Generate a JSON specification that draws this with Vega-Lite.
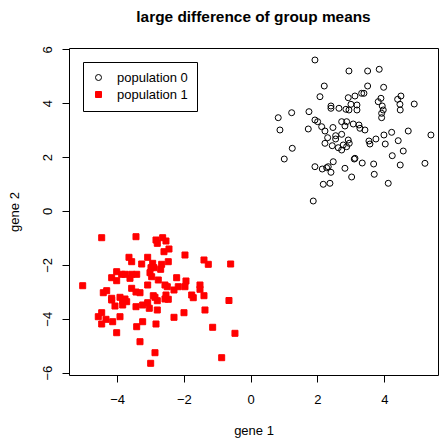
{
  "$schema": "https://vega.github.io/schema/vega-lite/v6.json",
  "width": 369,
  "height": 327,
  "autosize": {"type": "none"},
  "padding": {"left": 69, "top": 48, "right": 1, "bottom": 64},
  "background": "white",
  "title": {"text": "large difference of group means", "fontSize": 15.4, "fontWeight": "bold", "font": "Liberation Sans", "color": "black", "anchor": "middle", "offset": 20},
  "config": {
    "font": "Liberation Sans",
    "view": {"stroke": "black", "strokeWidth": 1},
    "axis": {"grid": false, "domain": false, "tickColor": "black", "tickSize": 7, "labelFontSize": 13, "labelColor": "black", "titleFontSize": 13, "titleFontWeight": "normal", "titleColor": "black", "labelFont": "Liberation Sans", "titleFont": "Liberation Sans"}
  },
  "data": {"values": [
    {"x": 1.925, "y": 5.603, "population": "population 0"},
    {"x": 2.943, "y": 5.195, "population": "population 0"},
    {"x": 3.503, "y": 5.195, "population": "population 0"},
    {"x": 3.850, "y": 5.258, "population": "population 0"},
    {"x": 2.204, "y": 4.638, "population": "population 0"},
    {"x": 3.503, "y": 4.638, "population": "population 0"},
    {"x": 3.982, "y": 4.590, "population": "population 0"},
    {"x": 2.075, "y": 4.241, "population": "population 0"},
    {"x": 2.922, "y": 4.204, "population": "population 0"},
    {"x": 3.123, "y": 4.267, "population": "population 0"},
    {"x": 3.323, "y": 4.367, "population": "population 0"},
    {"x": 3.392, "y": 4.367, "population": "population 0"},
    {"x": 0.826, "y": 3.462, "population": "population 0"},
    {"x": 1.228, "y": 3.647, "population": "population 0"},
    {"x": 1.746, "y": 3.685, "population": "population 0"},
    {"x": 2.404, "y": 3.896, "population": "population 0"},
    {"x": 2.404, "y": 3.811, "population": "population 0"},
    {"x": 2.644, "y": 3.811, "population": "population 0"},
    {"x": 2.853, "y": 3.774, "population": "population 0"},
    {"x": 2.943, "y": 3.748, "population": "population 0"},
    {"x": 3.003, "y": 3.959, "population": "population 0"},
    {"x": 3.183, "y": 3.933, "population": "population 0"},
    {"x": 3.183, "y": 3.748, "population": "population 0"},
    {"x": 3.901, "y": 4.182, "population": "population 0"},
    {"x": 3.820, "y": 4.056, "population": "population 0"},
    {"x": 3.940, "y": 3.896, "population": "population 0"},
    {"x": 3.970, "y": 3.748, "population": "population 0"},
    {"x": 3.922, "y": 3.625, "population": "population 0"},
    {"x": 3.922, "y": 3.462, "population": "population 0"},
    {"x": 4.401, "y": 4.145, "population": "population 0"},
    {"x": 4.500, "y": 4.267, "population": "population 0"},
    {"x": 4.470, "y": 3.959, "population": "population 0"},
    {"x": 4.479, "y": 3.748, "population": "population 0"},
    {"x": 4.898, "y": 3.970, "population": "population 0"},
    {"x": 1.925, "y": 3.377, "population": "population 0"},
    {"x": 2.006, "y": 3.314, "population": "population 0"},
    {"x": 2.126, "y": 3.128, "population": "population 0"},
    {"x": 2.464, "y": 3.098, "population": "population 0"},
    {"x": 2.725, "y": 3.314, "population": "population 0"},
    {"x": 2.874, "y": 3.314, "population": "population 0"},
    {"x": 2.823, "y": 3.154, "population": "population 0"},
    {"x": 1.725, "y": 3.043, "population": "population 0"},
    {"x": 0.877, "y": 3.006, "population": "population 0"},
    {"x": 3.072, "y": 3.228, "population": "population 0"},
    {"x": 3.243, "y": 3.191, "population": "population 0"},
    {"x": 3.272, "y": 3.069, "population": "population 0"},
    {"x": 3.422, "y": 3.006, "population": "population 0"},
    {"x": 4.719, "y": 2.968, "population": "population 0"},
    {"x": 4.222, "y": 2.920, "population": "population 0"},
    {"x": 3.991, "y": 2.820, "population": "population 0"},
    {"x": 5.398, "y": 2.820, "population": "population 0"},
    {"x": 3.751, "y": 2.672, "population": "population 0"},
    {"x": 3.542, "y": 2.597, "population": "population 0"},
    {"x": 3.572, "y": 2.486, "population": "population 0"},
    {"x": 2.922, "y": 2.635, "population": "population 0"},
    {"x": 2.874, "y": 2.386, "population": "population 0"},
    {"x": 4.419, "y": 2.609, "population": "population 0"},
    {"x": 4.030, "y": 2.486, "population": "population 0"},
    {"x": 4.569, "y": 2.226, "population": "population 0"},
    {"x": 4.240, "y": 2.052, "population": "population 0"},
    {"x": 3.123, "y": 1.955, "population": "population 0"},
    {"x": 3.341, "y": 1.781, "population": "population 0"},
    {"x": 3.683, "y": 1.744, "population": "population 0"},
    {"x": 2.823, "y": 1.584, "population": "population 0"},
    {"x": 4.479, "y": 1.707, "population": "population 0"},
    {"x": 5.219, "y": 1.770, "population": "population 0"},
    {"x": 3.024, "y": 1.262, "population": "population 0"},
    {"x": 3.701, "y": 1.362, "population": "population 0"},
    {"x": 4.120, "y": 1.028, "population": "population 0"},
    {"x": 2.225, "y": 2.968, "population": "population 0"},
    {"x": 2.305, "y": 2.720, "population": "population 0"},
    {"x": 2.545, "y": 2.794, "population": "population 0"},
    {"x": 2.545, "y": 2.672, "population": "population 0"},
    {"x": 2.725, "y": 2.846, "population": "population 0"},
    {"x": 2.225, "y": 2.512, "population": "population 0"},
    {"x": 2.443, "y": 2.423, "population": "population 0"},
    {"x": 2.623, "y": 2.349, "population": "population 0"},
    {"x": 2.725, "y": 2.263, "population": "population 0"},
    {"x": 1.246, "y": 2.327, "population": "population 0"},
    {"x": 1.006, "y": 1.929, "population": "population 0"},
    {"x": 1.925, "y": 1.644, "population": "population 0"},
    {"x": 2.144, "y": 1.558, "population": "population 0"},
    {"x": 2.275, "y": 1.607, "population": "population 0"},
    {"x": 2.323, "y": 1.644, "population": "population 0"},
    {"x": 2.473, "y": 1.829, "population": "population 0"},
    {"x": 2.404, "y": 1.436, "population": "population 0"},
    {"x": 3.102, "y": 1.929, "population": "population 0"},
    {"x": 2.174, "y": 0.991, "population": "population 0"},
    {"x": 2.374, "y": 1.028, "population": "population 0"},
    {"x": 1.874, "y": 0.371, "population": "population 0"},
    {"x": 2.772, "y": 2.449, "population": "population 0"},
    {"x": 2.952, "y": 2.512, "population": "population 0"},
    {"x": -4.461, "y": -0.991, "population": "population 1"},
    {"x": -3.434, "y": -0.954, "population": "population 1"},
    {"x": -2.835, "y": -1.076, "population": "population 1"},
    {"x": -2.796, "y": -1.199, "population": "population 1"},
    {"x": -2.635, "y": -0.991, "population": "population 1"},
    {"x": -2.536, "y": -1.113, "population": "population 1"},
    {"x": -2.596, "y": -1.510, "population": "population 1"},
    {"x": -2.446, "y": -1.410, "population": "population 1"},
    {"x": -1.967, "y": -1.633, "population": "population 1"},
    {"x": -3.644, "y": -1.718, "population": "population 1"},
    {"x": -3.563, "y": -1.881, "population": "population 1"},
    {"x": -3.084, "y": -1.718, "population": "population 1"},
    {"x": -3.263, "y": -1.967, "population": "population 1"},
    {"x": -2.934, "y": -1.941, "population": "population 1"},
    {"x": -2.985, "y": -2.104, "population": "population 1"},
    {"x": -2.895, "y": -2.104, "population": "population 1"},
    {"x": -2.665, "y": -1.978, "population": "population 1"},
    {"x": -2.467, "y": -1.881, "population": "population 1"},
    {"x": -2.695, "y": -2.163, "population": "population 1"},
    {"x": -1.398, "y": -1.818, "population": "population 1"},
    {"x": -1.269, "y": -1.978, "population": "population 1"},
    {"x": -0.599, "y": -1.967, "population": "population 1"},
    {"x": -4.012, "y": -2.252, "population": "population 1"},
    {"x": -3.862, "y": -2.349, "population": "population 1"},
    {"x": -3.763, "y": -2.349, "population": "population 1"},
    {"x": -3.563, "y": -2.349, "population": "population 1"},
    {"x": -3.413, "y": -2.349, "population": "population 1"},
    {"x": -3.015, "y": -2.289, "population": "population 1"},
    {"x": -2.964, "y": -2.438, "population": "population 1"},
    {"x": -4.162, "y": -2.475, "population": "population 1"},
    {"x": -4.012, "y": -2.586, "population": "population 1"},
    {"x": -3.614, "y": -2.497, "population": "population 1"},
    {"x": -2.766, "y": -2.560, "population": "population 1"},
    {"x": -2.216, "y": -2.475, "population": "population 1"},
    {"x": -1.937, "y": -2.597, "population": "population 1"},
    {"x": -5.030, "y": -2.772, "population": "population 1"},
    {"x": -3.084, "y": -2.746, "population": "population 1"},
    {"x": -3.563, "y": -2.868, "population": "population 1"},
    {"x": -3.434, "y": -3.006, "population": "population 1"},
    {"x": -3.314, "y": -3.032, "population": "population 1"},
    {"x": -4.413, "y": -3.032, "population": "population 1"},
    {"x": -4.311, "y": -2.957, "population": "population 1"},
    {"x": -2.916, "y": -3.143, "population": "population 1"},
    {"x": -2.865, "y": -3.202, "population": "population 1"},
    {"x": -4.162, "y": -3.239, "population": "population 1"},
    {"x": -3.913, "y": -3.202, "population": "population 1"},
    {"x": -3.763, "y": -3.265, "population": "population 1"},
    {"x": -1.967, "y": -2.809, "population": "population 1"},
    {"x": -2.168, "y": -2.809, "population": "population 1"},
    {"x": -2.566, "y": -2.746, "population": "population 1"},
    {"x": -2.497, "y": -2.809, "population": "population 1"},
    {"x": -2.296, "y": -2.931, "population": "population 1"},
    {"x": -1.518, "y": -2.746, "population": "population 1"},
    {"x": -1.518, "y": -2.905, "population": "population 1"},
    {"x": -2.536, "y": -3.117, "population": "population 1"},
    {"x": -2.566, "y": -3.265, "population": "population 1"},
    {"x": -1.766, "y": -3.117, "population": "population 1"},
    {"x": -1.719, "y": -3.217, "population": "population 1"},
    {"x": -1.398, "y": -3.143, "population": "population 1"},
    {"x": -0.650, "y": -3.321, "population": "population 1"},
    {"x": -4.162, "y": -3.302, "population": "population 1"},
    {"x": -4.063, "y": -3.525, "population": "population 1"},
    {"x": -3.832, "y": -3.328, "population": "population 1"},
    {"x": -3.713, "y": -3.365, "population": "population 1"},
    {"x": -3.832, "y": -3.488, "population": "population 1"},
    {"x": -3.913, "y": -3.922, "population": "population 1"},
    {"x": -4.461, "y": -3.774, "population": "population 1"},
    {"x": -4.563, "y": -3.922, "population": "population 1"},
    {"x": -4.332, "y": -4.019, "population": "population 1"},
    {"x": -4.461, "y": -4.193, "population": "population 1"},
    {"x": -4.132, "y": -4.108, "population": "population 1"},
    {"x": -3.434, "y": -3.551, "population": "population 1"},
    {"x": -3.234, "y": -3.488, "population": "population 1"},
    {"x": -3.084, "y": -3.403, "population": "population 1"},
    {"x": -3.036, "y": -3.610, "population": "population 1"},
    {"x": -2.796, "y": -3.328, "population": "population 1"},
    {"x": -2.796, "y": -3.673, "population": "population 1"},
    {"x": -3.234, "y": -4.108, "population": "population 1"},
    {"x": -3.413, "y": -4.293, "population": "population 1"},
    {"x": -2.835, "y": -4.193, "population": "population 1"},
    {"x": -4.012, "y": -4.516, "population": "population 1"},
    {"x": -3.314, "y": -4.850, "population": "population 1"},
    {"x": -2.865, "y": -5.258, "population": "population 1"},
    {"x": -2.994, "y": -5.651, "population": "population 1"},
    {"x": -2.467, "y": -3.276, "population": "population 1"},
    {"x": -1.997, "y": -3.774, "population": "population 1"},
    {"x": -1.368, "y": -3.673, "population": "population 1"},
    {"x": -2.296, "y": -3.944, "population": "population 1"},
    {"x": -1.138, "y": -4.315, "population": "population 1"},
    {"x": -0.470, "y": -4.538, "population": "population 1"},
    {"x": -0.868, "y": -5.443, "population": "population 1"}
  ]},
  "mark": {"type": "point", "size": 36, "strokeWidth": 1, "opacity": 1},
  "encoding": {
    "x": {"field": "x", "type": "quantitative", "scale": {"domain": [-5.44, 5.61], "nice": false, "zero": false},
      "axis": {"values": [-4, -2, 0, 2, 4], "title": "gene 1", "labelPadding": 11, "titlePadding": 18}},
    "y": {"field": "y", "type": "quantitative", "scale": {"domain": [-6.085, 6.048], "nice": false, "zero": false},
      "axis": {"values": [-6, -4, -2, 0, 2, 4, 6], "title": "gene 2", "labelAngle": -90, "labelPadding": 8, "titlePadding": 20}},
    "shape": {"field": "population", "type": "nominal", "scale": {"range": ["circle", "square"]},
      "legend": {"title": null, "orient": "none", "legendX": 14, "legendY": 14, "strokeColor": "black", "padding": 9, "labelFontSize": 13, "labelColor": "black", "symbolSize": 36, "symbolStrokeWidth": 1, "labelOffset": 12, "rowPadding": 3, "fillColor": "white",
        "encode": {"labels": {"update": {"text": {"signal": "datum.label + '\u2003\u2003\u2003\u2003\u2003\u2003\u2003'"}}}}}},
    "stroke": {"field": "population", "type": "nominal", "scale": {"range": ["black", "red"]}},
    "fill": {"field": "population", "type": "nominal", "scale": {"range": ["transparent", "red"]}}
  }
}
